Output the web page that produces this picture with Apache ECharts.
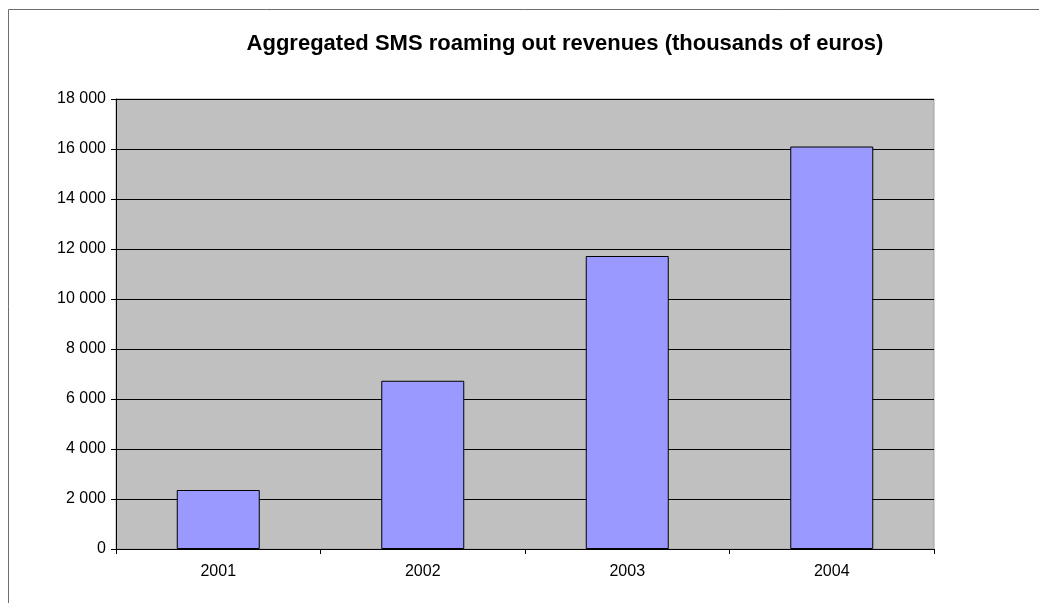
<!DOCTYPE html>
<html>
<head>
<meta charset="utf-8">
<title>Aggregated SMS roaming out revenues</title>
<script src="https://cdn.jsdelivr.net/npm/echarts@6/dist/echarts.min.js"></script>
<style>
  html, body { margin: 0; padding: 0; background: #ffffff; }
  #chart { width: 1039px; height: 603px; }
</style>
</head>
<body>
<div id="chart"></div>
<script>
// Revenue by year, thousands of euros
const years = ['2001', '2002', '2003', '2004'];
const revenues = [2360, 6730, 11720, 16100];
const yTicks = { min: 0, max: 18000, interval: 2000 };
const chartTitle = 'Aggregated SMS roaming out revenues (thousands of euros)';

const fontFamily = 'Liberation Sans, Arial, sans-serif';

function groupThousands(v) {
  return String(v).replace(/\B(?=(\d{3})+(?!\d))/g, ' ');
}

const chart = echarts.init(document.getElementById('chart'), null, { renderer: 'canvas' });

chart.setOption({
  backgroundColor: '#ffffff',
  animation: false,
  title: {
    text: chartTitle,
    left: 560,
    top: 28,
    textAlign: 'center',
    textStyle: { fontFamily, fontSize: 22, fontWeight: 'bold', color: '#000000' }
  },
  graphic: [{
    type: 'rect',
    silent: true,
    shape: { x: 8.5, y: 9.5, width: 2000, height: 2000 },
    style: { fill: 'none', stroke: '#6e6e6e', lineWidth: 1 }
  }],
  grid: {
    left: 116, top: 99, width: 818, height: 450,
    show: true,
    backgroundColor: '#c0c0c0',
    borderColor: '#a0a0a0',
    borderWidth: 1,
    containLabel: false
  },
  xAxis: {
    type: 'category',
    data: years,
    boundaryGap: true,
    axisLine: { show: true, lineStyle: { color: '#000000', width: 1 } },
    axisTick: { show: true, length: 5, interval: 0, lineStyle: { color: '#000000' } },
    axisLabel: { margin: 15, fontFamily, fontSize: 16, color: '#000000' },
    splitLine: { show: false }
  },
  yAxis: {
    type: 'value',
    min: yTicks.min,
    max: yTicks.max,
    interval: yTicks.interval,
    axisLine: { show: true, lineStyle: { color: '#000000', width: 1 } },
    axisTick: { show: true, length: 5, lineStyle: { color: '#000000' } },
    axisLabel: { margin: 10, fontFamily, fontSize: 16, color: '#000000', formatter: groupThousands },
    splitLine: { show: true, lineStyle: { color: '#000000', width: 1 } }
  },
  series: [{
    type: 'bar',
    data: revenues,
    barWidth: 83,
    itemStyle: { color: '#9999ff', borderColor: '#000000', borderWidth: 1 }
  }]
});
</script>
</body>
</html>
